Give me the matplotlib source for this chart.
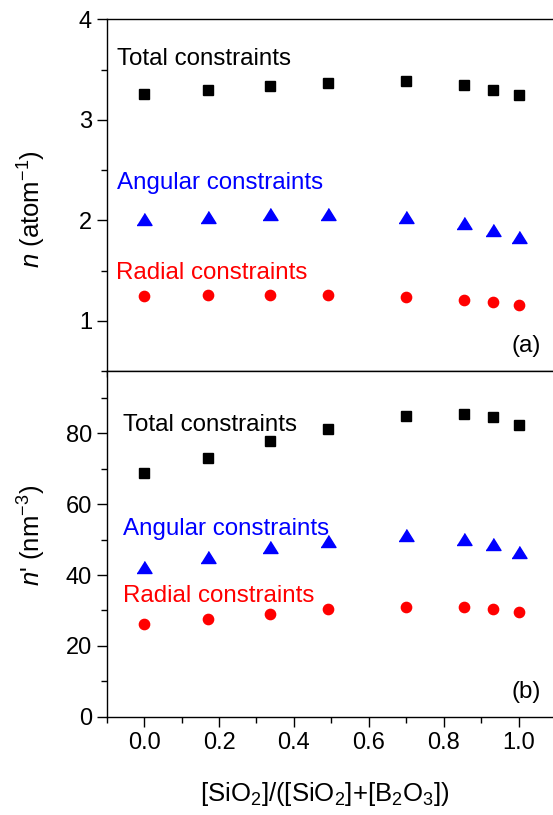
import numpy as np
import matplotlib
matplotlib.use('Agg')
import matplotlib.pyplot as plt
from matplotlib.ticker import MultipleLocator

plt.rcParams['font.family'] = ['Liberation Sans', 'DejaVu Sans']
plt.rcParams['mathtext.fontset'] = 'custom'
plt.rcParams['mathtext.rm'] = 'Liberation Sans'
plt.rcParams['mathtext.it'] = 'Liberation Sans:italic'

# composition [SiO2]/([SiO2]+[B2O3])
x = [0.0, 0.17, 0.335, 0.49, 0.70, 0.855, 0.933, 1.0]
x_ticks = [0.0, 0.2, 0.4, 0.6, 0.8, 1.0]

# (a) constraints per atom
n_total = [3.26, 3.30, 3.34, 3.37, 3.39, 3.35, 3.30, 3.25]
n_angular = [2.01, 2.03, 2.06, 2.06, 2.03, 1.97, 1.90, 1.83]
n_radial = [1.25, 1.26, 1.26, 1.26, 1.24, 1.21, 1.19, 1.16]

# (b) constraints per volume
nv_total = [68.7, 73.1, 77.7, 81.1, 84.9, 85.6, 84.5, 82.3]
nv_angular = [42.3, 45.0, 47.9, 49.6, 51.2, 50.3, 48.7, 46.5]
nv_radial = [26.3, 27.6, 29.0, 30.3, 31.1, 31.0, 30.3, 29.6]

tri = [(-1, -0.8), (1, -0.8), (0, 0.8)]

fig = plt.figure(figsize=(5.53, 8.15), dpi=100)
# the original figure is cropped on the right, so the axes run past the edge
left = 106.7 / 553
width = (556 - 106.7) / 553
ax1 = fig.add_axes([left, 1 - 371 / 815, width, (371 - 19.3) / 815])
ax2 = fig.add_axes([left, 1 - 716.7 / 815, width, (716.7 - 371) / 815])

for ax in (ax1, ax2):
    ax.set_xlim(-0.1, 1.1)
    ax.set_xticks(x_ticks)
    ax.xaxis.set_minor_locator(MultipleLocator(0.1))
    ax.tick_params(which='both', direction='out', top=False, right=False,
                   labelsize=17, width=1.0)
    ax.tick_params(which='major', length=7)
    ax.tick_params(which='minor', length=4)
    ax.tick_params(axis='y', pad=3.5)
    ax.tick_params(axis='x', pad=4)
    for s in ax.spines.values():
        s.set_linewidth(1.0)
    ax.spines['right'].set_visible(False)

fs = 17.4

# top panel
ax1.plot(x, n_total, 's', color='black', ms=6.8, ls='none')
ax1.plot(x, n_angular, marker=tri, color='blue', ms=10.8, ls='none')
ax1.plot(x, n_radial, 'o', color='red', ms=7.4, ls='none')
ax1.set_ylim(0.5, 4)
ax1.yaxis.set_major_locator(MultipleLocator(1))
ax1.yaxis.set_minor_locator(MultipleLocator(0.5))
ax1.tick_params(axis='x', labelbottom=False)
ax1.text(-0.072, 3.545, 'Total constraints', fontsize=fs, color='black')
ax1.text(-0.072, 2.31, 'Angular constraints', fontsize=fs, color='blue')
ax1.text(-0.076, 1.42, 'Radial constraints', fontsize=fs, color='red')
ax1.text(1.06, 0.69, '(a)', fontsize=fs, ha='right')

# bottom panel
ax2.plot(x, nv_total, 's', color='black', ms=6.8, ls='none')
ax2.plot(x, nv_angular, marker=tri, color='blue', ms=10.8, ls='none')
ax2.plot(x, nv_radial, 'o', color='red', ms=7.4, ls='none')
ax2.set_ylim(0, 97.6)
ax2.yaxis.set_major_locator(MultipleLocator(20))
ax2.yaxis.set_minor_locator(MultipleLocator(10))
ax2.text(-0.057, 80.7, 'Total constraints', fontsize=fs, color='black')
ax2.text(-0.057, 51.3, 'Angular constraints', fontsize=fs, color='blue')
ax2.text(-0.057, 32.5, 'Radial constraints', fontsize=fs, color='red')
ax2.text(1.06, 5.2, '(b)', fontsize=fs, ha='right')

fig.text(32 / 553, 1 - 209 / 815, r'$n$ (atom$^{-1}$)', fontsize=18.5,
         rotation=90, ha='center', va='center')
fig.text(32 / 553, 1 - 535 / 815, r"$n$' (nm$^{-3}$)", fontsize=18.5,
         rotation=90, ha='center', va='center')
fig.text(325 / 553, 1 - 794 / 815, r'[SiO$_2$]/([SiO$_2$]+[B$_2$O$_3$])',
         fontsize=18.5, ha='center', va='center')

fig.savefig('out.png', dpi=100)
